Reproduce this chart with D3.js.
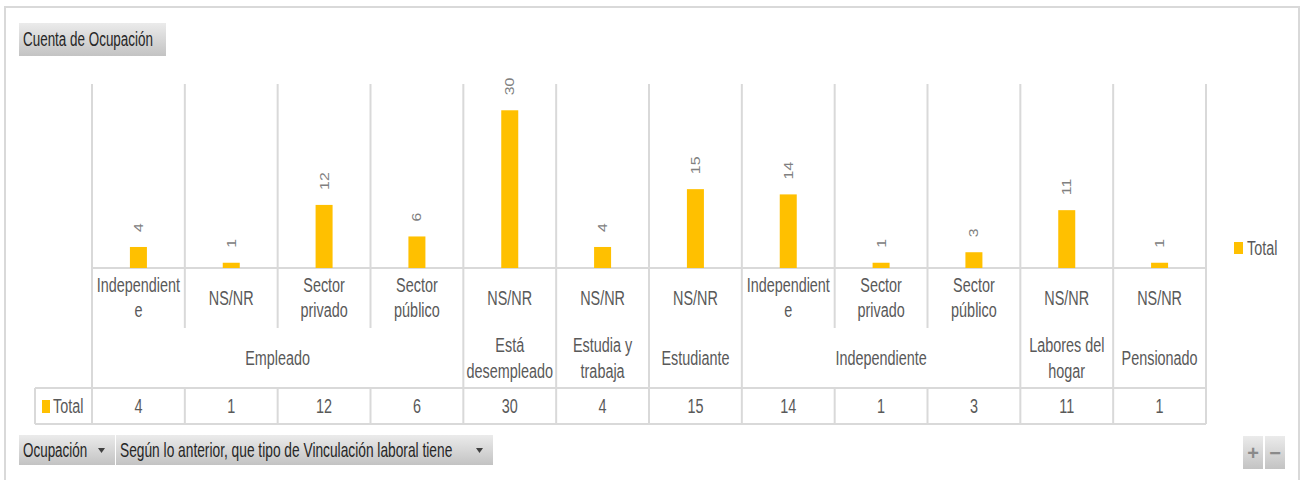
<!DOCTYPE html>
<html>
<head>
<meta charset="utf-8">
<script src="https://cdn.jsdelivr.net/npm/d3@7"></script>
<style>
  html, body { margin: 0; padding: 0; background: #fff; }
  svg { display: block; }
</style>
</head>
<body>
<div id="chart"></div>
<script>
// ocupacion (outer level) and vinculacion (inner level), one entry per bar
const ocupacion=["Empleado", "Empleado", "Empleado", "Empleado", "Está\ndesempleado", "Estudia y\ntrabaja",
    "Estudiante", "Independiente", "Independiente", "Independiente", "Labores del\nhogar", "Pensionado"];
const vinculacion=["Independient\ne", "NS/NR", "Sector\nprivado", "Sector\npúblico", "NS/NR", "NS/NR",
    "NS/NR", "Independient\ne", "Sector\nprivado", "Sector\npúblico", "NS/NR", "NS/NR"];
const total=[4, 1, 12, 6, 30, 4, 15, 14, 1, 3, 11, 1];
const seriesName="Total";

const width=1307, height=480;
// the picture is narrow and a bit tall, so text gets squeezed
const SX=0.9, K=1.22;
const font="'Liberation Sans',Arial,sans-serif";
const barColor="#FFC000";
const lineColor="#d9d9d9";

const svg=d3.select("#chart").append("svg")
    .attr("width", width)
    .attr("height", height)
    .attr("font-family", font);

const defs=svg.append("defs");
const grad=defs.append("linearGradient").attr("id", "btn").attr("x1", 0).attr("y1", 0).attr("x2", 0).attr("y2", 1);
grad.append("stop").attr("offset", "0%").attr("stop-color", "#ebebeb");
grad.append("stop").attr("offset", "100%").attr("stop-color", "#c3c3c3");

// outer frame
svg.append("rect")
    .attr("x", 5).attr("y", 7)
    .attr("width", 1294).attr("height", 500)
    .attr("fill", "none")
    .attr("stroke", lineColor)
    .attr("stroke-width", 2);

function addText (g, x, y, str, o) {
    o=o||{};
    return g.append("text")
        .attr("transform", `translate(${x},${y}) scale(${o.sx||SX},${K})`)
        .attr("dy", "0.35em")
        .attr("text-anchor", o.anchor||"middle")
        .attr("font-size", o.size||16)
        .attr("fill", o.fill||"#595959")
        .text(str);
}

function addLines (g, x, cy, str, lh) {
    const lines=str.split("\n");
    lines.forEach((l, i) => addText(g, x, cy+(i-(lines.length-1)/2)*lh, l));
}

function button (x, y, w, h, label, arrow, sx) {
    const b=svg.append("g");
    b.append("rect").attr("x", x).attr("y", y).attr("width", w).attr("height", h).attr("fill", "url(#btn)");
    addText(b, x+4, y+h/2, label, {anchor: "start", size: 16, sx: sx||0.84, fill: "#262626"});
    if (arrow) {
        b.append("path")
            .attr("d", `M${x+w-17},${y+h/2-2}l7,0l-3.5,5z`)
            .attr("fill", "#404040");
    }
    return b;
}

// field buttons
button(19, 23, 147, 33, "Cuenta de Ocupación", false);
button(19, 435, 96, 30, "Ocupación", true);
button(116, 435, 377, 30, "Según lo anterior, que tipo de Vinculación laboral tiene", true, 0.86);

// +/- buttons
[["+", 1243], ["−", 1265]].forEach(([s, bx]) => {
    const b=svg.append("g");
    b.append("rect").attr("x", bx).attr("y", 436).attr("width", 20).attr("height", 33).attr("fill", "url(#btn)");
    b.append("text").attr("x", bx+10).attr("y", 453).attr("dy", "0.35em")
        .attr("text-anchor", "middle")
        .attr("font-size", 20).attr("font-weight", "bold").attr("fill", "#8a8a8a").text(s);
});

// scales
const idx=d3.range(total.length);
const x=d3.scaleBand().domain(idx).range([92, 1206]).paddingInner(0).paddingOuter(0);
const y=d3.scaleLinear().domain([0, 35]).range([268, 84]);

const baseY=y(0), topY=y(35);
const row1=baseY+60, row2=row1+60, row3=row2+36;

// group runs of same ocupacion
const groups=[];
idx.forEach(i => {
    const last=groups[groups.length-1];
    if (last&&last.name===ocupacion[i]) last.end=i;
    else groups.push({name: ocupacion[i], start: i, end: i});
});

const grid=svg.append("g").attr("stroke", lineColor).attr("stroke-width", 2);

// boundaries
const bounds=idx.map(i => x(i)).concat([x.range()[1]]);
bounds.forEach((bx, i) => {
    const isGroup=i===0||i===total.length||groups.some(g => g.start===i);
    grid.append("line").attr("x1", bx).attr("x2", bx).attr("y1", topY)
        .attr("y2", isGroup ? row3 : row1);
    if (!isGroup) {
        grid.append("line").attr("x1", bx).attr("x2", bx).attr("y1", row2).attr("y2", row3);
    }
});
grid.append("line").attr("x1", x.range()[0]).attr("x2", x.range()[1]).attr("y1", baseY).attr("y2", baseY);
grid.append("line").attr("x1", 35).attr("x2", x.range()[1]).attr("y1", row2).attr("y2", row2);
grid.append("line").attr("x1", 35).attr("x2", x.range()[1]).attr("y1", row3).attr("y2", row3);
grid.append("line").attr("x1", 35).attr("x2", 35).attr("y1", row2).attr("y2", row3);

// bars
const bw=17;
svg.append("g").selectAll("rect")
    .data(idx)
    .join("rect")
    .attr("x", i => x(i)+x.bandwidth()/2-bw/2)
    .attr("y", i => y(total[i]))
    .attr("width", bw)
    .attr("height", i => baseY-y(total[i]))
    .attr("fill", barColor);

// value labels, rotated
svg.append("g").selectAll("text")
    .data(idx)
    .join("text")
    .attr("transform", i => `translate(${x(i)+x.bandwidth()/2},${y(total[i])-15}) scale(1,${K}) rotate(-90)`)
    .attr("dy", "0.35em")
    .attr("text-anchor", "start")
    .attr("font-size", 13)
    .attr("fill", "#808080")
    .text(i => total[i]);

// category labels
const lab=svg.append("g");
idx.forEach(i => addLines(lab, x(i)+x.bandwidth()/2, baseY+30, vinculacion[i], 25));
groups.forEach(g => {
    const cx=(x(g.start)+x(g.end)+x.bandwidth())/2;
    addLines(lab, cx, row1+30, g.name, 26);
});

// data table row
idx.forEach(i => addText(lab, x(i)+x.bandwidth()/2, (row2+row3)/2, total[i]));
svg.append("rect").attr("x", 42).attr("y", 400).attr("width", 8).attr("height", 13).attr("fill", barColor);
addText(lab, 53, (row2+row3)/2, seriesName, {anchor: "start"});

// legend
svg.append("rect").attr("x", 1234).attr("y", 242).attr("width", 9).attr("height", 12).attr("fill", barColor);
addText(lab, 1247, 248, seriesName, {anchor: "start"});
</script>
</body>
</html>
